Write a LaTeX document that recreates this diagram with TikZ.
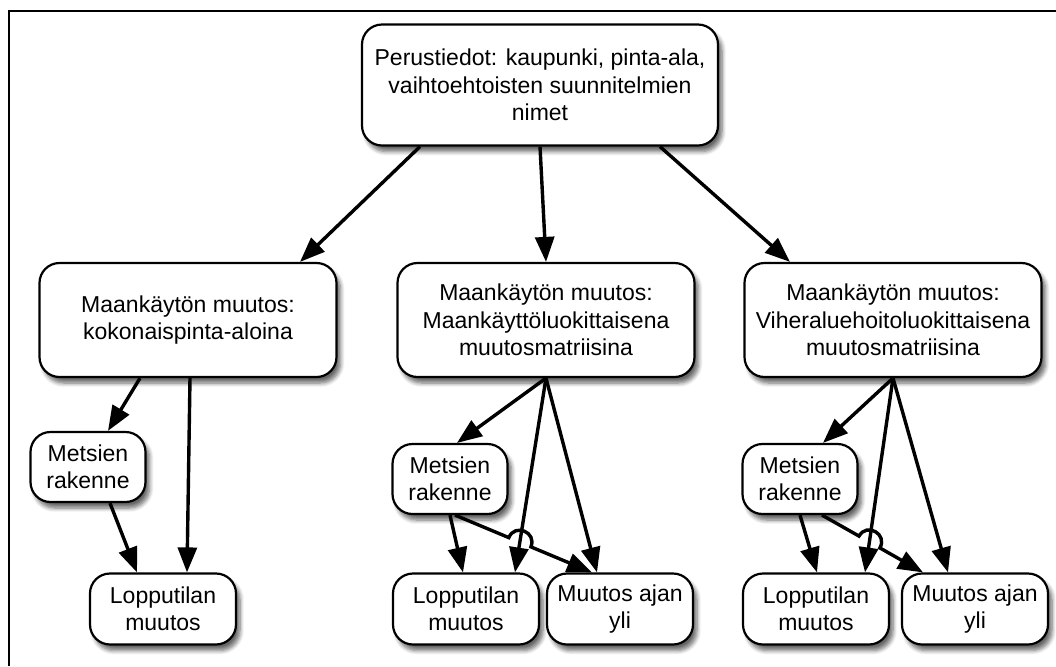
\documentclass[tikz,border=0pt]{standalone}
\usepackage{fontspec}
\setmainfont{Liberation Sans}
\usetikzlibrary{arrows.meta,calc,shadows.blur}

\begin{document}
\begin{tikzpicture}[x=0.5pt,y=-0.5pt,->,>={Triangle[length=12.5pt,width=9.5pt]},
    line width=1.7pt,
    main node/.style={draw,line width=1.1pt,rounded corners=10pt,fill=white,align=center,inner sep=2pt,
      font=\fontsize{11.5}{13.75}\selectfont,
      blur shadow={shadow xshift=2pt,shadow yshift=-3pt,shadow blur steps=6,shadow opacity=60}},
    top node/.style={main node,minimum width=178pt,minimum height=60.5pt},
    mid node/.style={main node,minimum width=148.5pt,minimum height=57pt},
    small node/.style={main node,minimum width=57.5pt,minimum height=35pt},
    end node/.style={main node,minimum width=73pt,minimum height=35.5pt}]
    \useasboundingbox (0,0) rectangle (1056,666);
    \draw[-,line width=1.2pt] (9,666) |- (1056,11);

    \node[top node] (top) at (540,85) {Perustiedot: kaupunki, pinta-ala,\\vaihtoehtoisten suunnitelmien\\nimet};
    \node[mid node] (m1) at (188,320) {Maankäytön muutos:\\kokonaispinta-aloina};
    \node[mid node] (m2) at (546,320) {Maankäytön muutos:\\Maankäyttöluokittaisena\\muutosmatriisina};
    \node[mid node] (m3) at (893,320) {Maankäytön muutos:\\Viheraluehoitoluokittaisena\\muutosmatriisina};

    \node[small node] (met1) at (88,467)  {Metsien\\rakenne};
    \node[end node]   (lop1) at (163,609) {Lopputilan\\muutos};

    \node[small node] (met2) at (450,479) {Metsien\\rakenne};
    \node[end node]   (lop2) at (466,609) {Lopputilan\\muutos};
    \node[end node]   (muu2) at (620,609) {Muutos ajan\\yli};

    \node[small node] (met3) at (800,479) {Metsien\\rakenne};
    \node[end node]   (lop3) at (816,609) {Lopputilan\\muutos};
    \node[end node]   (muu3) at (975,609) {Muutos ajan\\yli};

    \draw ($(top.south)+(-120,0)$) -- ($(m1.north)+(112,0)$);
    \draw (top.south) -- (m2.north);
    \draw ($(top.south)+(120,0)$) -- ($(m3.north)+(-103,0)$);

    \draw ($(m1.south)+(-48,0)$) -- ($(met1.north)+(20,0)$);
    \draw ($(m1.south)+(2,0)$) -- ($(lop1.north)+(24,0)$);
    \draw ($(met1.south)+(22,0)$) -- ($(lop1.north)+(-26,0)$);

    \foreach \g/\a/\b/\c/\d/\e/\f in {2/7/49/-23/-3/5/-28, 3/23/49/-27/1/22/-52} {
      \coordinate (ms) at (m\g.south);
      \coordinate (le) at ($(lop\g.north)+(\b,0)$);
      \coordinate (ts) at ($(met\g.south)+(\e,0)$);
      \coordinate (ue) at ($(muu\g.north)+(\f,0)$);
      \coordinate (x) at (intersection of ms--le and ts--ue);
      \draw (ms) -- ($(met\g.north)+(\a,0)$);
      \draw (ms) -- (le);
      \draw (ms) -- ($(muu\g.north)+(\c,0)$);
      \draw (met\g.south) -- ($(lop\g.north)+(\d,0)$);
      \draw (ts) -- ($(x)!6pt!(ts)$) to[bend left=90,looseness=1.7] ($(x)!6pt!(ue)$) -- (ue);
    }
\end{tikzpicture}
\end{document}
